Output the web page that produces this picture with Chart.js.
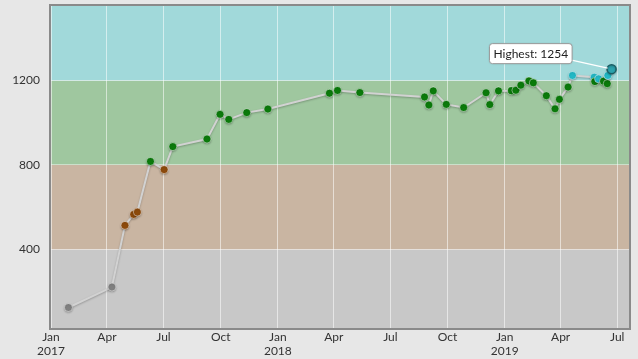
<!DOCTYPE html>
<html>
<head>
<meta charset="utf-8">
<script src="https://cdn.jsdelivr.net/npm/chart.js@4"></script>
<style>
  html, body { margin: 0; padding: 0; background: #e7e7e7; }
  #wrap { width: 638px; height: 359px; position: relative; }
</style>
</head>
<body>
<div id="wrap"><canvas id="chart"></canvas></div>
<script>
// rating history
const dates = [
  '2017-01-29', '2017-04-09', '2017-04-30', '2017-05-14', '2017-05-20', '2017-06-10',
  '2017-07-02', '2017-07-16', '2017-09-09', '2017-09-30', '2017-10-14', '2017-11-12',
  '2017-12-16', '2018-03-25', '2018-04-07', '2018-05-13', '2018-08-25', '2018-09-01',
  '2018-09-08', '2018-09-29', '2018-10-27', '2018-12-02', '2018-12-08', '2018-12-22',
  '2019-01-12', '2019-01-19', '2019-01-27', '2019-02-09', '2019-02-16', '2019-03-09',
  '2019-03-23', '2019-03-30', '2019-04-13', '2019-04-20', '2019-05-25', '2019-05-26',
  '2019-06-01', '2019-06-09', '2019-06-15', '2019-06-16', '2019-06-22'
];
const values = [
  125, 222, 514, 566, 577, 817,
  778, 887, 923, 1040, 1016, 1048,
  1065, 1140, 1153, 1143, 1122, 1084,
  1151, 1087, 1072, 1142, 1086, 1151,
  1152, 1154, 1178, 1198, 1189, 1128,
  1066, 1111, 1169, 1224, 1216, 1195,
  1208, 1197, 1185, 1224, 1254
];

// colour bands
const bandLimits = [0, 400, 800, 1200, 9999];
const bandColors = ['#c8c8c8', '#c9b5a2', '#9fc79f', '#a1d9da'];
const pointColors = ['#808080', '#8c4a0c', '#0b7a0b', '#22b8c5'];

const yTicks = [400, 800, 1200];
const tickDates = ['2017-01-01', '2017-04-01', '2017-07-01', '2017-10-01', '2018-01-01', '2018-04-01',
  '2018-07-01', '2018-10-01', '2019-01-01', '2019-04-01', '2019-07-01'];
const tickLabels = [['Jan', '2017'], 'Apr', 'Jul', 'Oct', ['Jan', '2018'], 'Apr',
  'Jul', 'Oct', ['Jan', '2019'], 'Apr', 'Jul'];

const toMs = s => { const p = s.split('-'); return Date.UTC(+p[0], +p[1] - 1, +p[2]); };

const points = dates.map((d, i) => ({ x: toMs(d), y: values[i] }));
const best = values.indexOf(Math.max(...values));

function band(v) {
  for (let i = 0; i < bandColors.length; i++) {
    if (v < bandLimits[i + 1]) return i;
  }
  return bandColors.length - 1;
}

function noPad(s) {
  s.paddingTop = 0;
  s.paddingBottom = 0;
  s.paddingLeft = 0;
  s.paddingRight = 0;
}

const bgPlugin = {
  id: 'bands',
  beforeDraw(chart) {
    const { ctx, chartArea: a, scales: { y } } = chart;
    ctx.save();
    ctx.fillStyle = '#e7e7e7';
    ctx.fillRect(0, 0, chart.width, chart.height);
    for (let i = 0; i < bandColors.length; i++) {
      const top = Math.max(a.top, y.getPixelForValue(bandLimits[i + 1]));
      const bot = Math.min(a.bottom, y.getPixelForValue(bandLimits[i]));
      if (bot <= top) continue;
      ctx.fillStyle = bandColors[i];
      ctx.fillRect(a.left, top, a.right - a.left, bot - top);
    }
    ctx.restore();
  },
  beforeDatasetsDraw(chart) {
    const { ctx, chartArea: a } = chart;
    ctx.save();
    ctx.strokeStyle = '#8a8a8a';
    ctx.lineWidth = 2;
    ctx.strokeRect(a.left - 1, a.top - 1, a.right - a.left + 2, a.bottom - a.top + 2);
    ctx.restore();
  },
  beforeDatasetDraw(chart) {
    chart.ctx.save();
    chart.ctx.shadowColor = 'rgba(0,0,0,0.25)';
    chart.ctx.shadowBlur = 2;
    chart.ctx.shadowOffsetY = 1;
  },
  afterDatasetDraw(chart) {
    chart.ctx.restore();
  },
  afterDraw(chart) {
    // callout for the highest rating
    const { ctx } = chart;
    const el = chart.getDatasetMeta(0).data[best];
    const text = 'Highest: ' + values[best];
    ctx.save();
    ctx.font = '12px Lato';
    const w = ctx.measureText(text).width + 8;
    const h = 20;
    const right = el.x - 40, bottom = el.y - 6;
    const left = right - w, top = bottom - h;
    ctx.strokeStyle = '#ffffff';
    ctx.lineWidth = 1.2;
    ctx.beginPath();
    ctx.moveTo(right, bottom - 3);
    ctx.lineTo(el.x - 4, el.y - 1);
    ctx.stroke();
    ctx.shadowColor = 'rgba(0,0,0,0.2)';
    ctx.shadowBlur = 2;
    ctx.fillStyle = '#ffffff';
    ctx.strokeStyle = '#9a9a9a';
    ctx.lineWidth = 1;
    ctx.beginPath();
    ctx.roundRect(left + 0.5, top + 0.5, w, h, 3);
    ctx.fill();
    ctx.shadowColor = 'transparent';
    ctx.stroke();
    ctx.fillStyle = '#222';
    ctx.textBaseline = 'middle';
    ctx.fillText(text, left + 4.5, top + h / 2 + 1);
    ctx.restore();
  }
};

new Chart(document.getElementById('chart'), {
  type: 'line',
  data: {
    datasets: [{
      data: points,
      borderColor: '#d2d2d2',
      borderWidth: 2,
      tension: 0,
      pointRadius: ctx => ctx.dataIndex === best ? 4.5 : 4,
      pointBorderWidth: ctx => ctx.dataIndex === best ? 1.5 : 1,
      pointBackgroundColor: ctx => ctx.dataIndex === best ? '#2ca3ad' : pointColors[band(ctx.raw.y)],
      pointBorderColor: ctx => ctx.dataIndex === best ? '#1b5d63' : 'rgba(255,255,255,0.45)'
    }]
  },
  plugins: [bgPlugin],
  options: {
    responsive: true,
    maintainAspectRatio: false,
    animation: false,
    layout: { padding: { top: 4, right: 9, left: 0, bottom: 0 } },
    plugins: { legend: { display: false }, tooltip: { enabled: false } },
    scales: {
      x: {
        type: 'linear',
        min: toMs('2017-01-01'),
        max: toMs('2019-07-20'),
        afterBuildTicks: s => { s.ticks = tickDates.map(d => ({ value: toMs(d) })); },
        afterFit: s => { s.height = 31; noPad(s); },
        grid: { color: 'rgba(255,255,255,0.55)', drawTicks: false },
        border: { display: false },
        ticks: {
          padding: 3,
          maxRotation: 0,
          autoSkip: false,
          color: '#333',
          font: { family: 'Lato', size: 12, lineHeight: 1.1 },
          callback: v => {
            const i = tickDates.findIndex(d => toMs(d) === v);
            return i >= 0 ? tickLabels[i] : '';
          }
        }
      },
      y: {
        min: 28,
        max: 1553,
        afterBuildTicks: s => { s.ticks = yTicks.map(v => ({ value: v })); },
        afterFit: s => { s.width = 51; noPad(s); },
        grid: { color: 'rgba(255,255,255,0.45)', drawTicks: false },
        border: { display: false },
        ticks: {
          padding: 11,
          color: '#333',
          font: { family: 'Lato', size: 12 },
          callback: v => String(v)
        }
      }
    }
  }
});
</script>
</body>
</html>
